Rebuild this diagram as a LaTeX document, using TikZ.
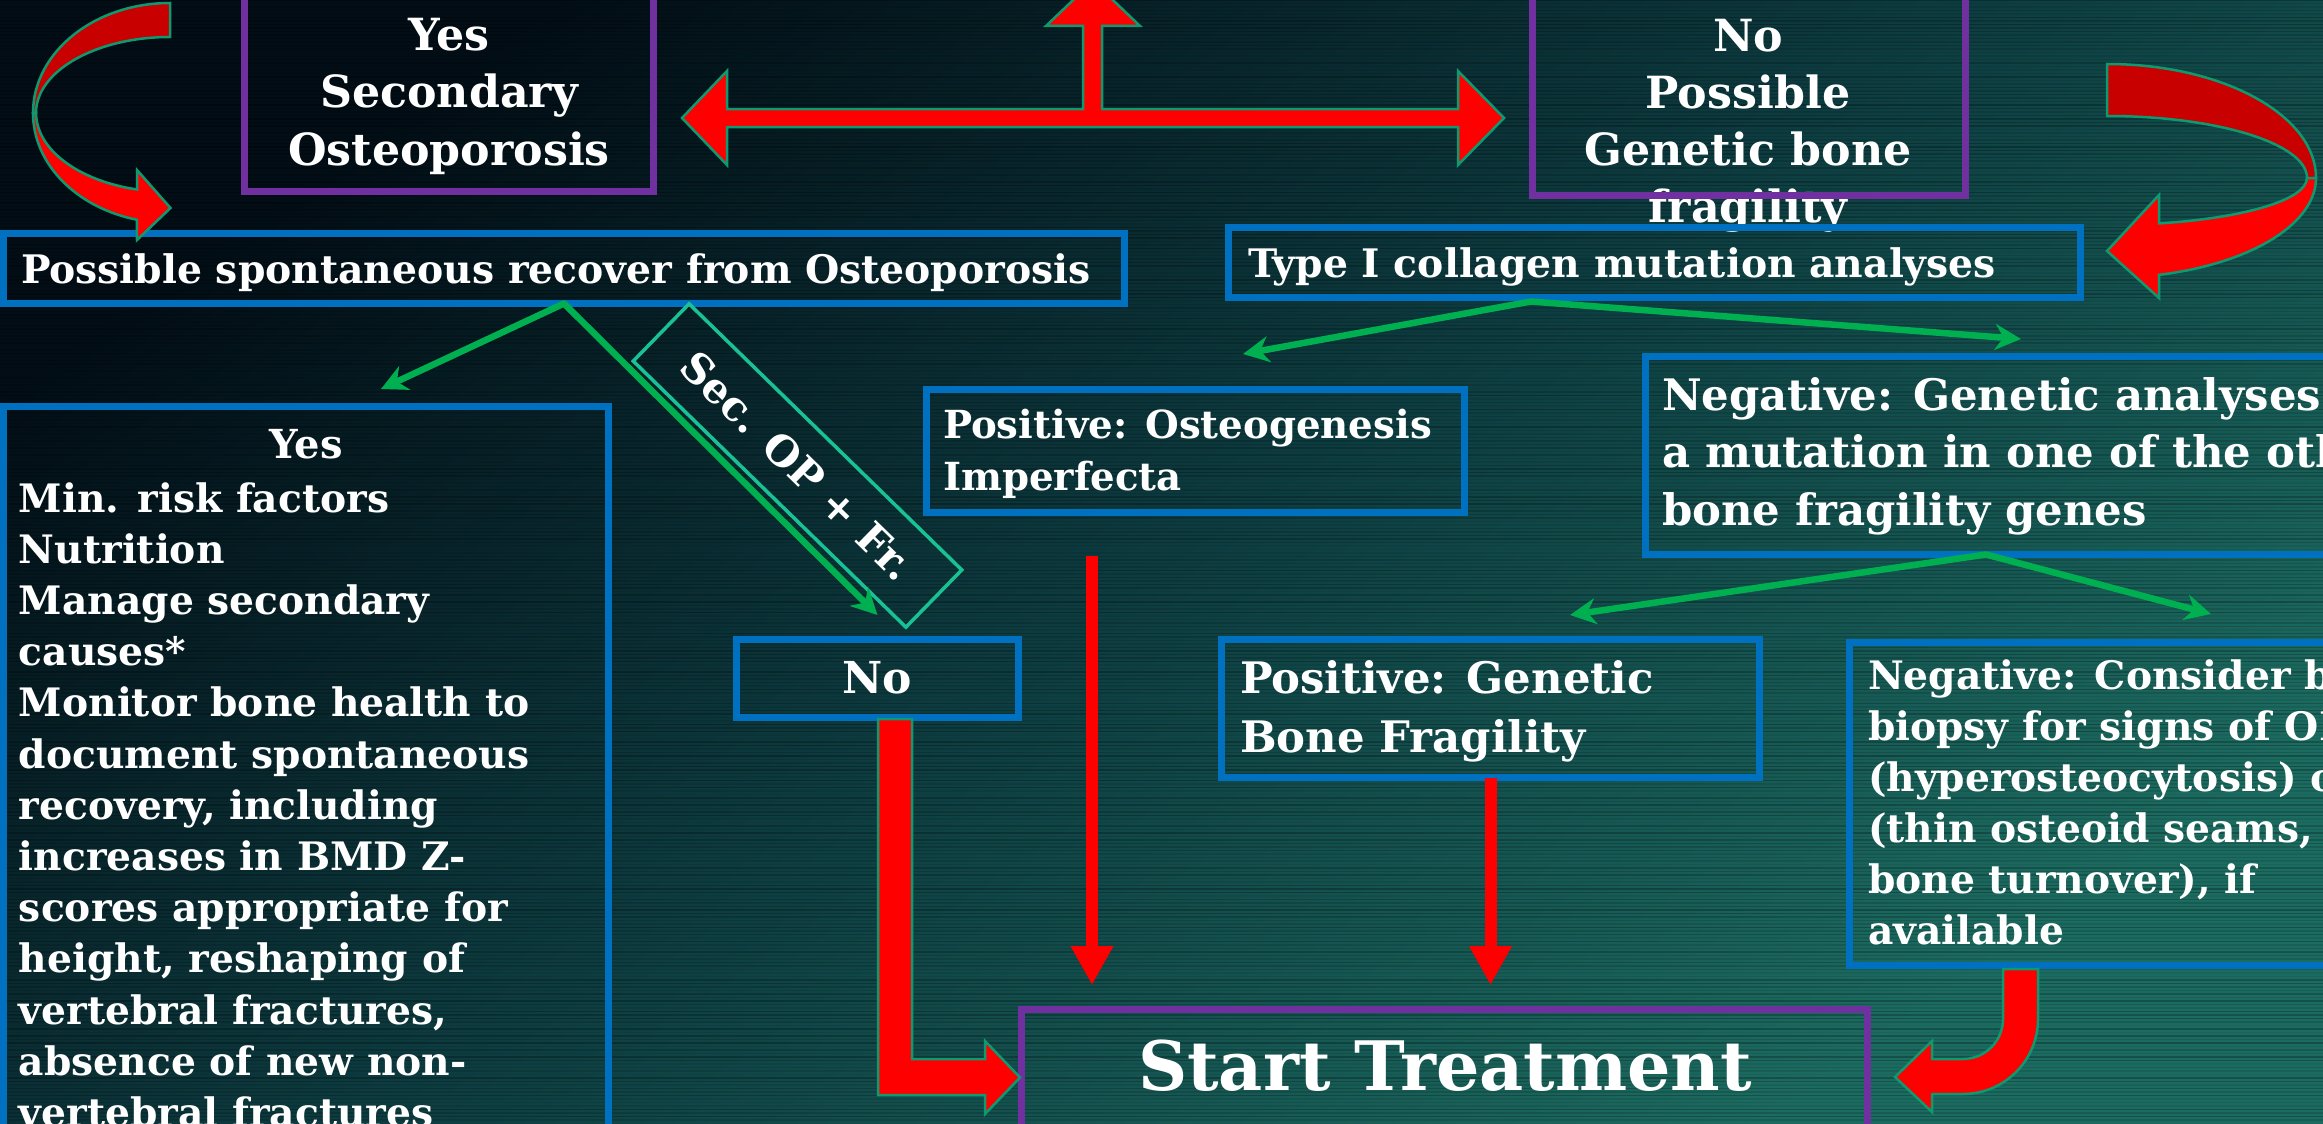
\documentclass[tikz,border=0pt]{standalone}
\usepackage{fontspec}
\setmainfont{DejaVu Serif}
\usetikzlibrary{arrows.meta,calc}
\definecolor{boxblue}{HTML}{0070C0}
\definecolor{purp}{HTML}{7030A0}
\definecolor{redA}{HTML}{FF0000}
\definecolor{redD}{HTML}{C80000}
\definecolor{outl}{HTML}{0E9A70}
\definecolor{grn}{HTML}{00B050}
\definecolor{secteal}{HTML}{19C294}
\definecolor{bgA}{HTML}{020D15}
\definecolor{bgB}{HTML}{0D3C40}
\definecolor{bgC}{HTML}{1C6B60}
\newcommand{\myfs}[2]{\fontsize{#1}{#2}\selectfont\bfseries}
\begin{document}
\begin{tikzpicture}[x=1pt,y=-1pt,
  every node/.style={inner sep=0pt,outer sep=0pt},
  bbox/.style={draw=boxblue,line width=7pt,rectangle},
  pbox/.style={draw=purp,line width=7pt,rectangle},
  txt/.style={text=white},
  garr/.style={draw=grn,line width=6.5pt,line join=round,
    {Stealth[length=26pt,width=26pt]}-{Stealth[length=26pt,width=26pt]}},
  rarr/.style={draw=redA,line width=12pt,-{Triangle[length=39pt,width=40pt]}},
  blk/.style={fill=redA,draw=outl,line width=2.5pt,line join=miter},
  blkd/.style={fill=redD,draw=outl,line width=2.5pt,line join=miter},
]
\useasboundingbox (0,0) rectangle (2323,1124);
\clip (0,0) rectangle (2323,1124);
% background
\shade[top color=bgA,bottom color=bgC,middle color=bgB,shading angle=35] (0,0) rectangle (2323,1124);
\pgfmathsetseed{7}
\foreach \k in {0,...,320}{
  \pgfmathsetmacro\yy{\k*3.5}
  \pgfmathsetmacro\op{0.05+0.22*rnd}
  \draw[black,opacity=\op,line width=1.6pt] (0,\yy) -- (2323,\yy);
}
% texts (base anchor = baseline of the last line)
\node[txt,anchor=base,align=center,font=\myfs{44.3}{57.5}] (tA) at (449,165) {Yes\\Secondary\\Osteoporosis};
\node[txt,anchor=base,align=center,font=\myfs{44.3}{57}] (tB) at (1748,222) {No\\Possible\\Genetic bone\\fragility};
\node[txt,anchor=base west,font=\myfs{39.3}{46}] (tC) at (21,283) {Possible spontaneous recover from Osteoporosis};
\node[txt,anchor=base west,font=\myfs{39.3}{46}] (tD) at (1248,277) {Type I collagen mutation analyses};
\node[txt,anchor=base,font=\myfs{40}{51.3}] (tEy) at (306,458) {Yes};
\node[txt,anchor=base west,align=left,font=\myfs{39.2}{51.2}] (tE) at (19,1126.5) {Min. risk factors\\Nutrition\\Manage secondary\\causes*\\Monitor bone health to\\document spontaneous\\recovery, including\\increases in BMD Z-\\scores appropriate for\\height, reshaping of\\vertebral fractures,\\absence of new non-\\vertebral fractures};
\node[txt,anchor=base,font=\myfs{44}{57}] (tF) at (877,693) {No};
\node[txt,anchor=base west,align=left,font=\myfs{38.7}{52}] (tG) at (943,490) {Positive: Osteogenesis\\Imperfecta};
\node[txt,anchor=base west,align=left,font=\myfs{43.4}{59}] (tH) at (1240,752) {Positive: Genetic\\Bone Fragility};
\node[txt,anchor=base,font=\myfs{68.2}{80}] (tI) at (1445,1090) {Start Treatment};
\node[txt,anchor=base west,align=left,font=\myfs{43.4}{57.5}] (tJ) at (1662,525) {Negative: Genetic analyses\\a mutation in one of the other\\bone fragility genes};
\node[txt,anchor=base west,align=left,font=\myfs{39.2}{51}] (tK) at (1868,944) {Negative: Consider bone\\biopsy for signs of OI\\(hyperosteocytosis) or OP\\(thin osteoid seams, low\\bone turnover), if\\available};
% boxes
\node[pbox,minimum width=409pt,minimum height=211pt] (A) at (448.5,85.5) {};
\node[pbox,minimum width=433pt,minimum height=215pt] (B) at (1748.5,87.5) {};
\node[bbox,minimum width=1121pt,minimum height=70pt] (C) at (564,268.5) {};
\node[bbox,minimum width=852pt,minimum height=70pt] (D) at (1654.5,262.5) {};
\node[bbox,minimum width=605pt,minimum height=743.5pt] (E) at (306,778.25) {};
\node[bbox,minimum width=282pt,minimum height=78pt] (F) at (877.5,678.5) {};
\node[bbox,minimum width=538pt,minimum height=123pt] (G) at (1195.5,451) {};
\node[bbox,minimum width=538pt,minimum height=138pt] (H) at (1490.5,708.5) {};
\node[pbox,minimum width=846pt,minimum height=140.5pt] (I) at (1444.5,1079.75) {};
\node[bbox,minimum width=714.5pt,minimum height=198pt] (J) at (2002.75,455.5) {};
\node[bbox,minimum width=510.5pt,minimum height=323pt] (K) at (2104.75,804) {};
% rotated label box
\node[draw=secteal,line width=3.5pt,rotate=-44.3,minimum width=381pt,minimum height=80pt,txt,font=\myfs{41.4}{48}] (sec) at (797.5,465.5) {Sec. OP + Fr.};
% green connectors
\draw[garr] ([xshift=75pt,yshift=17.5pt]E.north) -- (C.south) -- ([yshift=24.5pt]F.north);
\draw[garr] ([xshift=47.5pt,yshift=35.5pt]G.north) -- ([xshift=-123.5pt,yshift=-4pt]D.south) -- ([xshift=18.25pt,yshift=17.5pt]J.north);
\draw[garr] ([xshift=79.5pt,yshift=24.5pt]H.north) -- ([xshift=-16.75pt]J.south) -- ([xshift=106.25pt,yshift=28.5pt]K.north);
% thin red connectors
\draw[rarr] ([xshift=-103.5pt,yshift=-43.5pt]G.south) -- ([xshift=-352.5pt,yshift=24.5pt]I.north);
\draw[rarr] (H.south) -- ([xshift=46pt,yshift=24.5pt]I.north);
% block arrows
\draw[blk] (682,118) -- (727,71) -- (727,109) -- (1083,109) -- (1083,26) -- (1046,26) -- (1093,-19) -- (1140,26) -- (1102,26) -- (1102,109) -- (1458,109) -- (1458,71) -- (1504,118) -- (1458,165) -- (1458,127) -- (727,127) -- (727,165) -- cycle;
\draw[blkd] (170,3) arc[start angle=270,end angle=180,x radius=137,y radius=110] -- (36,113) arc[start angle=180,end angle=270,x radius=134,y radius=76] -- cycle;
\draw[blk] (33,113) arc[start angle=180,end angle=104,x radius=137,y radius=110] -- (137,240) -- (170.5,208) -- (137,170) -- (137,189.5) arc[start angle=104.3,end angle=180,x radius=134,y radius=79] -- cycle;
\draw[blkd] (2107,64) arc[start angle=270,end angle=360,x radius=209,y radius=114] -- (2307,178) arc[start angle=0,end angle=-90,x radius=200,y radius=62] -- cycle;
\draw[blk] (2316,178) arc[start angle=0,end angle=75.6,x radius=209,y radius=100] -- (2159,298) -- (2107,251) -- (2159,195) -- (2159,223.4) arc[start angle=74.9,end angle=0,x radius=200,y radius=47] -- cycle;
\draw[blk] (878,719) -- (912,719) -- (912,1059) -- (985,1059) -- (985,1041) -- (1020,1077.5) -- (985,1114) -- (985,1095) -- (878,1095) -- cycle;
\draw[blk] (2003,969) -- (2038,969) -- (2038,1019) arc[start angle=0,end angle=90,radius=75] -- (1932,1094) -- (1932,1112) -- (1895,1077) -- (1932,1041) -- (1932,1059) -- (1963,1059) arc[start angle=90,end angle=0,radius=40] -- cycle;
\end{tikzpicture}
\end{document}
